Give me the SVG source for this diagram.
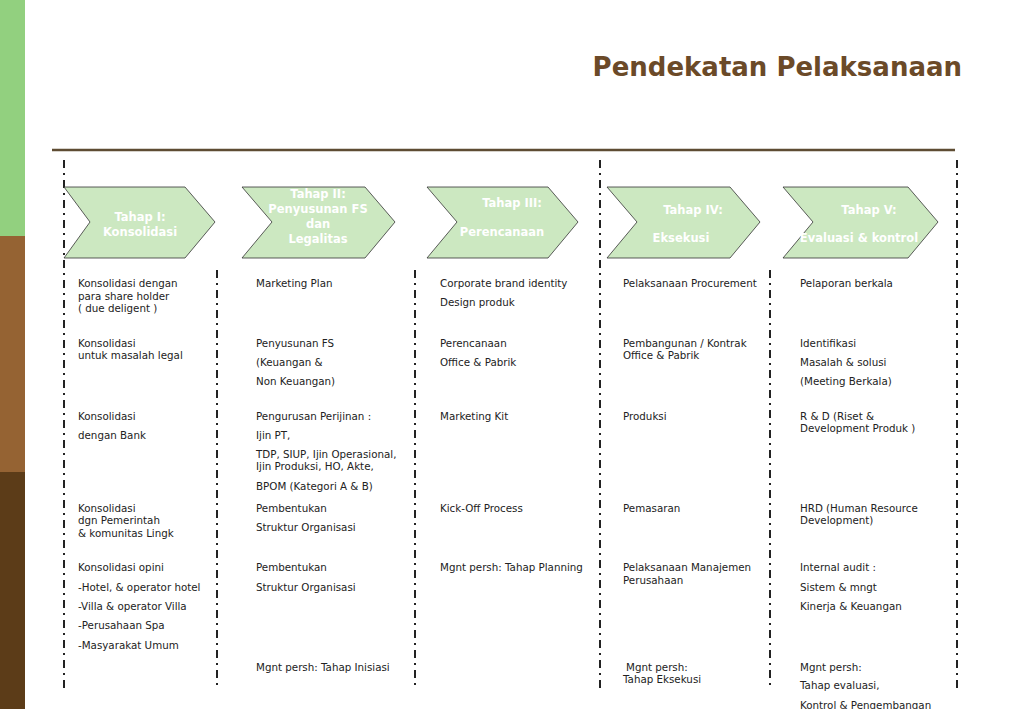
<svg xmlns="http://www.w3.org/2000/svg" width="1024" height="709" viewBox="0 0 1024 709">
<style>
.ch{fill:#cce8c1;stroke:#333;stroke-width:0.8}
.ct{font-family:"DejaVu Sans",sans-serif;font-weight:bold;font-size:11.5px;fill:#fff;text-anchor:middle}
.t{font-family:"DejaVu Sans",sans-serif;font-size:10.3px;fill:#222}
.v{stroke:#222;stroke-width:2;stroke-dasharray:8,5,2,5;fill:none}
</style>
<rect width="1024" height="709" fill="#fff"/>
<rect x="0" y="0" width="25" height="236" fill="#92d07f"/>
<rect x="0" y="236" width="25" height="236" fill="#956333"/>
<rect x="0" y="472" width="25" height="237" fill="#5c3c18"/>
<text x="962" y="76" text-anchor="end" font-family="'DejaVu Sans',sans-serif" font-weight="bold" font-size="26" fill="#6b4a28">Pendekatan Pelaksanaan</text>
<line x1="52" y1="150" x2="955" y2="150" stroke="#5e4c33" stroke-width="2.5"/>
<g id="connectors">
<line class="v" x1="64" y1="160" x2="64" y2="690"/>
<line class="v" x1="600" y1="160" x2="600" y2="690"/>
<line class="v" x1="957" y1="160" x2="957" y2="690"/>
<line class="v" x1="217" y1="270" x2="217" y2="690"/>
<line class="v" x1="415" y1="270" x2="415" y2="690"/>
<line class="v" x1="770" y1="270" x2="770" y2="690"/>
</g>
<g id="tahap1"><polygon class="ch" points="64,187 185,187 215,222 185,258 64,258 90,222"/><text class="ct" x="140" y="221">Tahap I:</text><text class="ct" x="140" y="236">Konsolidasi</text></g>
<g id="tahap2"><polygon class="ch" points="242,187 365,187 395,222 365,258 242,258 272,222"/><text class="ct" x="318" y="198">Tahap II:</text><text class="ct" x="318" y="213">Penyusunan FS</text><text class="ct" x="318" y="228">dan</text><text class="ct" x="318" y="243">Legalitas</text></g>
<g id="tahap3"><polygon class="ch" points="427,187 548,187 578,222 548,258 427,258 457,222"/><text class="ct" x="512" y="207">Tahap III:</text><text class="ct" x="502" y="236">Perencanaan</text></g>
<g id="tahap4"><polygon class="ch" points="607,187 730,187 760,222 730,258 607,258 637,222"/><text class="ct" x="693" y="214">Tahap IV:</text><text class="ct" x="681" y="242">Eksekusi</text></g>
<g id="tahap5"><polygon class="ch" points="783,187 908,187 938,222 908,258 783,258 813,222"/><text class="ct" x="869" y="214">Tahap V:</text><text class="ct" x="859" y="242">Evaluasi &amp; kontrol</text></g>
<g id="col1" class="t">
<text x="78" y="287">Konsolidasi dengan</text><text x="78" y="300">para share holder</text><text x="78" y="312">( due deligent )</text>
<text x="78" y="347">Konsolidasi</text><text x="78" y="359">untuk masalah legal</text>
<text x="78" y="420">Konsolidasi</text><text x="78" y="439">dengan Bank</text>
<text x="78" y="512">Konsolidasi</text><text x="78" y="524">dgn Pemerintah</text><text x="78" y="537">&amp; komunitas Lingk</text>
<text x="78" y="571">Konsolidasi opini</text><text x="78" y="591">-Hotel, &amp; operator hotel</text><text x="78" y="610">-Villa &amp; operator Villa</text><text x="78" y="629">-Perusahaan Spa</text><text x="78" y="649">-Masyarakat Umum</text>
</g>
<g id="col2" class="t">
<text x="256" y="287">Marketing Plan</text>
<text x="256" y="347">Penyusunan FS</text><text x="256" y="366">(Keuangan &amp;</text><text x="256" y="385">Non Keuangan)</text>
<text x="256" y="420">Pengurusan Perijinan :</text><text x="256" y="439">Ijin PT,</text><text x="256" y="458">TDP, SIUP,  Ijin Operasional,</text><text x="256" y="470">Ijin Produksi, HO,  Akte,</text><text x="256" y="490">BPOM (Kategori A &amp; B)</text>
<text x="256" y="512">Pembentukan</text><text x="256" y="531">Struktur Organisasi</text>
<text x="256" y="571">Pembentukan</text><text x="256" y="591">Struktur Organisasi</text>
<text x="256" y="671">Mgnt persh:  Tahap Inisiasi</text>
</g>
<g id="col3" class="t">
<text x="440" y="287">Corporate brand identity</text><text x="440" y="306">Design produk</text>
<text x="440" y="347">Perencanaan</text><text x="440" y="366">Office &amp; Pabrik</text>
<text x="440" y="420">Marketing Kit</text>
<text x="440" y="512">Kick-Off Process</text>
<text x="440" y="571">Mgnt persh: Tahap Planning</text>
</g>
<g id="col4" class="t">
<text x="623" y="287">Pelaksanaan Procurement</text>
<text x="623" y="347">Pembangunan / Kontrak</text><text x="623" y="359">Office &amp; Pabrik</text>
<text x="623" y="420">Produksi</text>
<text x="623" y="512">Pemasaran</text>
<text x="623" y="571">Pelaksanaan Manajemen</text><text x="623" y="584">Perusahaan</text>
<text x="626" y="671">Mgnt persh:</text><text x="623" y="683">Tahap Eksekusi</text>
</g>
<g id="col5" class="t">
<text x="800" y="287">Pelaporan  berkala</text>
<text x="800" y="347">Identifikasi</text><text x="800" y="366">Masalah &amp; solusi</text><text x="800" y="385">(Meeting Berkala)</text>
<text x="800" y="420">R &amp; D (Riset &amp;</text><text x="800" y="432">Development Produk )</text>
<text x="800" y="512">HRD (Human Resource</text><text x="800" y="524">Development)</text>
<text x="800" y="571">Internal audit :</text><text x="800" y="591">Sistem &amp; mngt</text><text x="800" y="610">Kinerja &amp; Keuangan</text>
<text x="800" y="671">Mgnt persh:</text><text x="800" y="689">Tahap evaluasi,</text><text x="800" y="709">Kontrol &amp; Pengembangan</text>
</g>
</svg>
